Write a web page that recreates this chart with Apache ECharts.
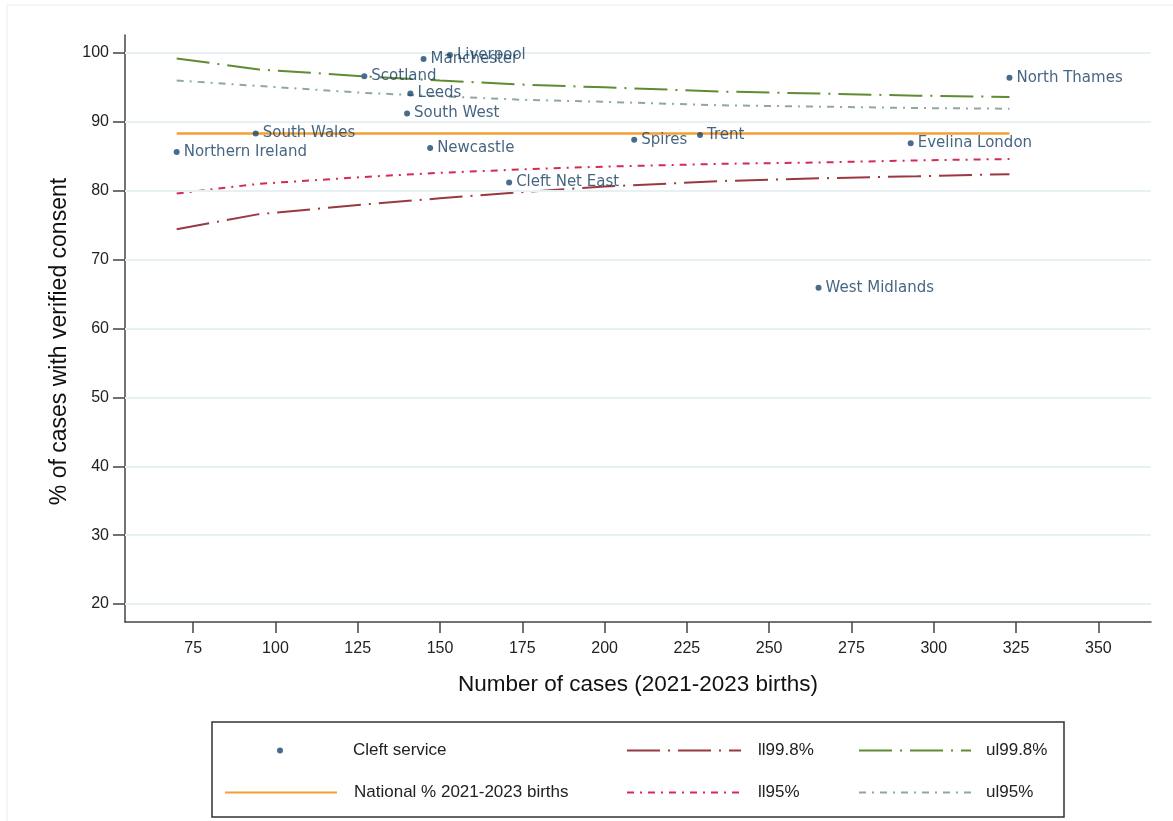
<!DOCTYPE html>
<html>
<head>
<meta charset="utf-8">
<script src="https://cdn.jsdelivr.net/npm/echarts@6/dist/echarts.min.js"></script>
<style>
html,body{margin:0;padding:0;background:#fff;}
#chart{width:1173px;height:821px;}
</style>
</head>
<body>
<div id="chart"></div>
<script>
// ---- Data ----
const services = ['Northern Ireland','South Wales','Scotland','South West','Leeds','Manchester','Newcastle','Liverpool','Cleft Net East','Spires','Trent','West Midlands','Evelina London','North Thames'];
const cases    = [70, 94, 127, 140, 141, 145, 147, 153, 171, 209, 229, 265, 293, 323];
const pctConsent = [85.6, 88.3, 96.6, 91.2, 94.1, 99.1, 86.2, 99.7, 81.2, 87.4, 88.1, 65.9, 86.9, 96.4];

const nationalN = [70, 323];
const nationalPct = [88.3, 88.3];

const limitN  = [70, 95, 127, 150, 175, 200, 235, 265, 295, 323];
const ul998   = [99.2, 97.6, 96.6, 96.0, 95.4, 95.0, 94.4, 94.1, 93.8, 93.6];
const ul95    = [96.0, 95.2, 94.2, 93.7, 93.2, 92.9, 92.4, 92.2, 92.0, 91.9];
const ll95    = [79.6, 81.0, 82.0, 82.6, 83.1, 83.5, 83.9, 84.1, 84.4, 84.6];
const ll998   = [74.4, 76.6, 78.0, 78.9, 79.8, 80.6, 81.4, 81.8, 82.1, 82.4];

const xTicks = [75, 100, 125, 150, 175, 200, 225, 250, 275, 300, 325, 350];
const yTicks = [20, 30, 40, 50, 60, 70, 80, 90, 100];

// ---- Chart ----
const FONT = "'Liberation Sans', Arial, sans-serif";
const LABEL_FONT = "'DejaVu Sans', Verdana, sans-serif";
const pair = (xs, ys) => xs.map((x, i) => [x, ys[i]]);

const chart = echarts.init(document.getElementById('chart'), null, {renderer: 'canvas'});

function legendItem(name, left, top, itemWidth, itemHeight, pad, hideSymbol) {
  const l = {
    show: true, data: [name], left: left, top: top, padding: 0,
    itemWidth: itemWidth, itemHeight: itemHeight, selectedMode: false,
    textStyle: {fontFamily: FONT, fontSize: 17, color: '#222', padding: [0, 0, 0, pad]}
  };
  if (hideSymbol) l.itemStyle = {color: 'rgba(0,0,0,0)', borderWidth: 0};
  return l;
}

const option = {
  animation: false,
  backgroundColor: '#fff',
  grid: {left: 125, top: 35, right: 22, bottom: 199, containLabel: false},
  legend: [
    legendItem('Cleft service', 277, 742, 6, 6, 65, false),
    legendItem('National % 2021-2023 births', 224, 784, 112, 14, 12, true),
    legendItem('ll99.8%', 626, 742, 114, 14, 12, true),
    legendItem('ll95%', 626, 784, 114, 14, 12, true),
    legendItem('ul99.8%', 858, 742, 112, 14, 10, true),
    legendItem('ul95%', 858, 784, 112, 14, 10, true)
  ],
  xAxis: {
    type: 'value', min: 54.3, max: 366,
    name: 'Number of cases (2021-2023 births)', nameLocation: 'middle', nameGap: 51,
    nameTextStyle: {fontFamily: FONT, fontSize: 22.5, color: '#111'},
    axisLine: {show: true, onZero: false, lineStyle: {color: '#444', width: 1.5}},
    axisTick: {show: true, customValues: xTicks, length: 11, lineStyle: {color: '#444', width: 1.5}},
    axisLabel: {show: true, customValues: xTicks, margin: 19, fontFamily: FONT, fontSize: 16, color: '#222'},
    splitLine: {show: false}
  },
  yAxis: {
    type: 'value', min: 17.4, max: 102.6,
    name: '% of cases with verified consent', nameLocation: 'middle', nameGap: 49,
    nameTextStyle: {fontFamily: FONT, fontSize: 23, color: '#111', padding: [0, 26, 0, 0]},
    axisLine: {show: true, onZero: false, lineStyle: {color: '#444', width: 1.5}},
    axisTick: {show: true, customValues: yTicks, length: 12, lineStyle: {color: '#444', width: 1.5}},
    axisLabel: {show: true, customValues: yTicks, margin: 16, fontFamily: FONT, fontSize: 16, color: '#222'},
    splitLine: {show: false}
  },
  series: [
    {
      name: 'gridlines', type: 'line', data: [], silent: true,
      markLine: {
        silent: true, symbol: 'none', label: {show: false},
        lineStyle: {color: '#e7f0f2', width: 2, type: 'solid'},
        data: yTicks.map(v => ({yAxis: v}))
      }
    },
    {
      name: 'National % 2021-2023 births', type: 'line', data: pair(nationalN, nationalPct),
      symbol: 'none', lineStyle: {color: '#f2a035', width: 2.5}, itemStyle: {color: '#f2a035'}, z: 3
    },
    {
      name: 'll99.8%', type: 'line', data: pair(limitN, ll998), symbol: 'none',
      lineStyle: {color: '#9a3940', width: 2, type: [33, 8, 2, 8]}, itemStyle: {color: '#9a3940'}, z: 3
    },
    {
      name: 'ul99.8%', type: 'line', data: pair(limitN, ul998), symbol: 'none',
      lineStyle: {color: '#5f8b32', width: 2, type: [33, 8, 2, 8]}, itemStyle: {color: '#5f8b32'}, z: 3
    },
    {
      name: 'll95%', type: 'line', data: pair(limitN, ll95), symbol: 'none',
      lineStyle: {color: '#d42a55', width: 2, type: [7, 6, 2, 6]}, itemStyle: {color: '#d42a55'}, z: 3
    },
    {
      name: 'ul95%', type: 'line', data: pair(limitN, ul95), symbol: 'none',
      lineStyle: {color: '#8fa89f', width: 2, type: [7, 6, 2, 6]}, itemStyle: {color: '#8fa89f'}, z: 3
    },
    {
      name: 'Cleft service', type: 'scatter', symbol: 'circle', symbolSize: 6, z: 5,
      itemStyle: {color: '#1a476f'},
      data: services.map((s, i) => ({name: s, value: [cases[i], pctConsent[i]]})),
      label: {
        show: true, position: 'right', distance: 4, formatter: p => p.name,
        fontFamily: LABEL_FONT, fontSize: 15, color: '#173e63'
      }
    }
  ],
  graphic: [
    {type: 'rect', shape: {x: 7, y: 5, width: 1170, height: 830}, style: {fill: 'none', stroke: '#ececec', lineWidth: 1}, silent: true},
    {type: 'rect', shape: {x: 212, y: 722, width: 852, height: 95}, style: {fill: 'none', stroke: '#333', lineWidth: 1.5}, silent: true}
  ]
};
chart.setOption(option);
</script>
</body>
</html>
